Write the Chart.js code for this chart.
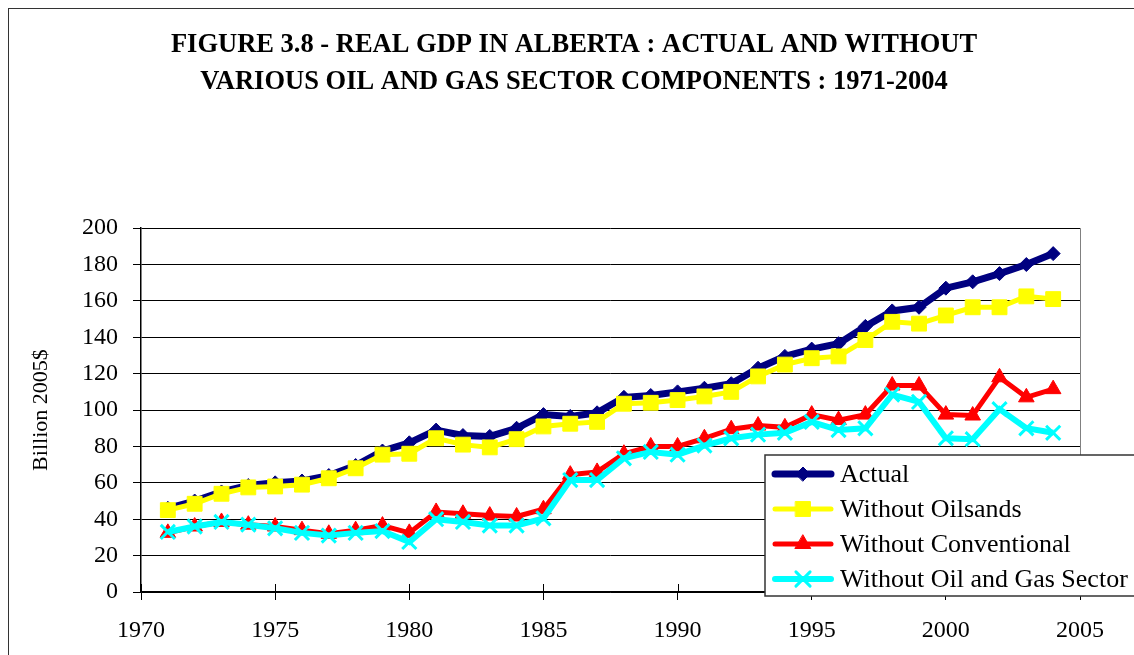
<!DOCTYPE html>
<html>
<head>
<meta charset="utf-8">
<script src="https://cdn.jsdelivr.net/npm/chart.js@4.4.1/dist/chart.umd.min.js"></script>
<style>
  html, body { margin: 0; padding: 0; background: #fff; overflow: hidden; }
  #wrap { position: relative; width: 1134px; height: 655px; }
  #gdpChart { position: absolute; left: 0; top: 0; }
  #frame { position: absolute; left: 8px; top: 8px; width: 1200px; height: 700px;
           border: 1.5px solid #333; pointer-events: none; }
</style>
</head>
<body>
<div id="wrap">
  <canvas id="gdpChart" width="1134" height="655"></canvas>
  <div id="frame"></div>
</div>
<script>
// ==========================================
// DATA (billion 2005$)
// ==========================================
const years = [1971, 1972, 1973, 1974, 1975, 1976, 1977, 1978, 1979, 1980,
  1981, 1982, 1983, 1984, 1985, 1986, 1987, 1988, 1989, 1990,
  1991, 1992, 1993, 1994, 1995, 1996, 1997, 1998, 1999, 2000,
  2001, 2002, 2003, 2004];

const actual = [46, 50, 55, 58.5, 60, 61, 64, 69.5, 77.5, 82,
  89, 86, 85.5, 90, 97.5, 96.5, 98.5, 107, 108, 110,
  112, 114.5, 123, 129.5, 133.5, 136.5, 146, 154.5, 156.5, 167,
  170.5, 175, 180, 186];

const withoutOilsands = [45, 48.5, 54, 57.5, 58, 59, 62.5, 68, 75.5, 76,
  84.5, 81, 79.5, 84, 91, 92.5, 93.5, 103.5, 104, 105.5,
  107.5, 110, 118.5, 125, 128.5, 129.5, 138.5, 148.5, 147.5, 152,
  156.5, 156.5, 162.5, 161];

const withoutConventional = [32.5, 36, 38.5, 37, 36, 34, 32, 34, 36.5, 32.5,
  44, 43, 42, 41.5, 45.5, 64.5, 66, 76, 80, 80,
  84.5, 89.5, 91.5, 90.5, 97.5, 94.5, 97.5, 113.5, 113.5, 97.5,
  97, 118, 107, 111.5];

const withoutOilGas = [33, 36, 38.5, 37, 35, 32.5, 31, 32.5, 33.5, 27.5,
  40, 38.5, 36.5, 36.5, 40.5, 61.5, 61.5, 73.5, 77, 75.5,
  80.5, 84.5, 86.5, 87.5, 93.5, 89, 90, 108.5, 104.5, 84.5,
  84, 100.5, 90, 87.5];

const seriesNames = ['Actual', 'Without Oilsands', 'Without Conventional', 'Without Oil and Gas Sector'];
const xTicks = [1970, 1975, 1980, 1985, 1990, 1995, 2000, 2005];
const yTicks = [0, 20, 40, 60, 80, 100, 120, 140, 160, 180, 200];

const SERIF = "'Liberation Serif', 'Times New Roman', serif";

const toPoints = arr => arr.map((v, i) => ({ x: years[i], y: v }));

// ==========================================
// PLUGINS
// ==========================================
// inner half of the x tick marks + right border of the plot area
const plotExtras = {
  id: 'plotExtras',
  afterDraw(chart) {
    const { ctx, chartArea: a, scales } = chart;
    ctx.save();
    ctx.strokeStyle = '#000';
    ctx.lineWidth = 1;
    xTicks.forEach(t => {
      const px = Math.round(scales.x.getPixelForValue(t)) + 0.5;
      ctx.beginPath();
      ctx.moveTo(px, a.bottom);
      ctx.lineTo(px, a.bottom - 8);
      ctx.stroke();
    });
    ctx.strokeStyle = '#808080';
    ctx.beginPath();
    ctx.moveTo(a.right + 0.5, a.top);
    ctx.lineTo(a.right + 0.5, a.bottom);
    ctx.stroke();
    ctx.restore();
  }
};

// legend box floating over the lower right of the plot
const floatingLegend = {
  id: 'floatingLegend',
  afterDraw(chart) {
    const ctx = chart.ctx;
    const bx = 765, by = 455, bw = 420, bh = 141;
    ctx.save();
    ctx.fillStyle = '#fff';
    ctx.fillRect(bx, by, bw, bh);
    ctx.strokeStyle = '#333';
    ctx.lineWidth = 1.5;
    ctx.strokeRect(bx, by, bw, bh);

    chart.data.datasets.forEach((ds, i) => {
      const y = by + 19 + i * 35;
      ctx.strokeStyle = ds.borderColor;
      ctx.lineWidth = ds.borderWidth;
      ctx.lineCap = 'round';
      ctx.beginPath();
      ctx.moveTo(775, y);
      ctx.lineTo(831, y);
      ctx.stroke();
      if (Chart.helpers && Chart.helpers.drawPoint) {
        ctx.fillStyle = ds.pointBackgroundColor;
        ctx.strokeStyle = ds.pointBorderColor;
        ctx.lineWidth = ds.pointBorderWidth;
        Chart.helpers.drawPoint(ctx, {
          pointStyle: ds.pointStyle, radius: ds.pointRadius,
          rotation: 0, borderWidth: ds.pointBorderWidth
        }, 803, y);
      }
      ctx.fillStyle = '#000';
      ctx.font = '26px ' + SERIF;
      ctx.textBaseline = 'middle';
      ctx.textAlign = 'left';
      ctx.fillText(ds.label, 840, y + 1);
    });
    ctx.restore();
  }
};

// ==========================================
// CHART
// ==========================================
const ctx = document.getElementById('gdpChart').getContext('2d');

new Chart(ctx, {
  type: 'line',
  data: {
    datasets: [
      {
        label: seriesNames[0], data: toPoints(actual), order: 4,
        borderColor: '#000080', borderWidth: 7,
        pointStyle: 'rectRot', pointRadius: 7,
        pointBackgroundColor: '#000080', pointBorderColor: '#000080', pointBorderWidth: 1,
      },
      {
        label: seriesNames[1], data: toPoints(withoutOilsands), order: 3,
        borderColor: '#ffff00', borderWidth: 5,
        pointStyle: 'rect', pointRadius: 10.5,
        pointBackgroundColor: '#ffff00', pointBorderColor: '#ffff00', pointBorderWidth: 1,
      },
      {
        label: seriesNames[2], data: toPoints(withoutConventional), order: 2,
        borderColor: '#ff0000', borderWidth: 5,
        pointStyle: 'triangle', pointRadius: 9,
        pointBackgroundColor: '#ff0000', pointBorderColor: '#ff0000', pointBorderWidth: 1,
      },
      {
        label: seriesNames[3], data: toPoints(withoutOilGas), order: 1,
        borderColor: '#00ffff', borderWidth: 6,
        pointStyle: 'crossRot', pointRadius: 10,
        pointBackgroundColor: '#00ffff', pointBorderColor: '#00ffff', pointBorderWidth: 3,
      }
    ]
  },
  options: {
    responsive: false,
    animation: false,
    devicePixelRatio: 1,
    layout: { padding: { left: 14, right: 0, top: 0, bottom: 0 } },
    elements: { line: { tension: 0 } },
    plugins: {
      legend: { display: false },
      tooltip: { enabled: false },
      title: {
        display: true,
        text: ['FIGURE 3.8 - REAL GDP IN ALBERTA : ACTUAL AND WITHOUT',
               'VARIOUS OIL AND GAS SECTOR COMPONENTS : 1971-2004'],
        color: '#000',
        font: { family: SERIF, size: 26.5, weight: 'bold', lineHeight: 1.38 },
        padding: { top: 27, bottom: 128 }
      }
    },
    scales: {
      x: {
        type: 'linear',
        min: 1970, max: 2005,
        afterBuildTicks: scale => { scale.ticks = xTicks.map(v => ({ value: v })); },
        afterFit: scale => { scale.height = 63; },
        grid: { drawOnChartArea: false, drawTicks: true, tickLength: 8, color: '#000', lineWidth: 1 },
        border: { color: '#000', width: 1.5 },
        ticks: { color: '#000', font: { family: SERIF, size: 24 }, padding: 16, maxRotation: 0,
                 callback: v => String(v) }
      },
      y: {
        min: 0, max: 200,
        afterBuildTicks: scale => { scale.ticks = yTicks.map(v => ({ value: v })); },
        afterFit: scale => { scale.width = 127; },
        grid: { color: '#000', lineWidth: 1, drawTicks: true, tickLength: 8 },
        border: { color: '#000', width: 1.5 },
        ticks: { color: '#000', font: { family: SERIF, size: 24 }, padding: 15 },
        title: {
          display: true, text: 'Billion 2005$', color: '#000',
          font: { family: SERIF, size: 22 }, padding: { top: 14, bottom: 0 }
        }
      },
      // empty right-hand axis that only reserves the margin right of the plot
      yRight: {
        position: 'right',
        min: 0, max: 200,
        afterFit: scale => { scale.width = 54; },
        grid: { drawOnChartArea: false, drawTicks: false },
        border: { display: false },
        ticks: { display: false }
      }
    }
  },
  plugins: [plotExtras, floatingLegend]
});
</script>
</body>
</html>
